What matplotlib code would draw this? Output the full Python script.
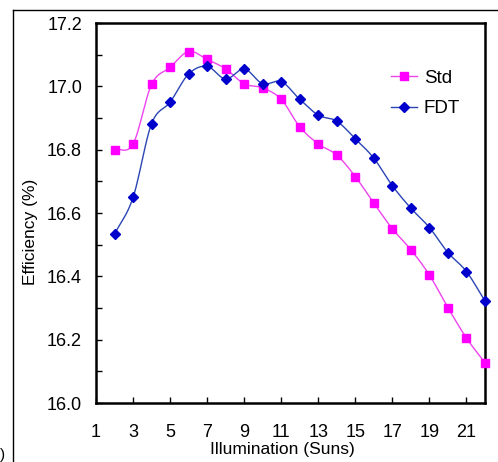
import matplotlib
matplotlib.use("Agg")
import matplotlib.pyplot as plt
from matplotlib.lines import Line2D
import numpy as np

plt.rcParams["font.family"] = ["Liberation Sans", "DejaVu Sans"]

suns = [2, 3, 4, 5, 6, 7, 8, 9, 10, 11, 12, 13, 14, 15, 16, 17, 18, 19, 20, 21, 22]
std_eff = [16.80, 16.818, 17.006, 17.06, 17.11, 17.085, 17.055, 17.008, 16.995, 16.959,
           16.872, 16.818, 16.783, 16.715, 16.631, 16.55, 16.484, 16.404, 16.301, 16.205, 16.127]
fdt_eff = [16.533, 16.649, 16.882, 16.95, 17.039, 17.063, 17.023, 17.055, 17.008, 17.015,
           16.959, 16.909, 16.89, 16.834, 16.773, 16.686, 16.615, 16.554, 16.475, 16.415, 16.322]
x_ticks = [1, 3, 5, 7, 9, 11, 13, 15, 17, 19, 21]


def smooth(x, y, n=12):
    # Catmull-Rom path through the points, like Excel's smoothed line
    x = np.asarray(x, dtype=float)
    y = np.asarray(y, dtype=float)
    px = np.concatenate([[2 * x[0] - x[1]], x, [2 * x[-1] - x[-2]]])
    py = np.concatenate([[2 * y[0] - y[1]], y, [2 * y[-1] - y[-2]]])
    t = np.linspace(0, 1, n, endpoint=False)
    xs, ys = [], []
    for i in range(1, len(px) - 2):
        for p, out in ((px, xs), (py, ys)):
            p0, p1, p2, p3 = p[i - 1], p[i], p[i + 1], p[i + 2]
            out.extend(0.5 * (2 * p1 + (-p0 + p2) * t + (2 * p0 - 5 * p1 + 4 * p2 - p3) * t ** 2
                              + (-p0 + 3 * p1 - 3 * p2 + p3) * t ** 3))
    xs.append(x[-1])
    ys.append(y[-1])
    return xs, ys


fig = plt.figure(figsize=(4.98, 4.62), dpi=100)
ax = fig.add_axes([96 / 498, 59 / 462, 389 / 498, 380 / 462])

std_c, std_line = "#ff00ff", "#ee44ee"
fdt_c, fdt_line = "#0000cc", "#2b45b5"

ax.plot(*smooth(suns, std_eff), color=std_line, lw=1.0)
ax.plot(suns, std_eff, "s", color=std_c, ms=5.5, mec=std_c, clip_on=False, zorder=3)
ax.plot(*smooth(suns, fdt_eff), color=fdt_line, lw=1.0)
ax.plot(suns, fdt_eff, "D", color=fdt_c, ms=4.8, mec=fdt_c, clip_on=False, zorder=3)

ax.set_xlim(1, 22)
ax.set_ylim(16.0, 17.2)
ax.set_xticks(x_ticks)
ax.set_yticks(np.arange(16.0, 17.21, 0.2))
ax.set_yticks(np.arange(16.1, 17.2, 0.2), minor=True)
ax.yaxis.set_major_formatter(matplotlib.ticker.FormatStrFormatter("%.1f"))
ax.tick_params(direction="in", length=4, width=1, labelsize=13)
ax.tick_params(axis="y", which="minor", direction="in", length=4, width=1)
ax.tick_params(axis="y", pad=10)
ax.tick_params(axis="x", pad=15)
for s in ax.spines.values():
    s.set_linewidth(1.8)

ax.set_xlabel("Illumination (Suns)", fontsize=12.5)
ax.set_ylabel("Efficiency (%)", fontsize=12.5)
ax.xaxis.set_label_coords(0.478, -0.103)
ax.yaxis.set_label_coords(-0.148, 0.45)

handles = [
    Line2D([], [], color=std_line, lw=1.0, marker="s", mfc=std_c, mec=std_c, ms=5.5),
    Line2D([], [], color=fdt_line, lw=1.0, marker="D", mfc=fdt_c, mec=fdt_c, ms=4.8),
]
ax.legend(handles, ["Std", "FDT"], loc="upper left", bbox_to_anchor=(0.758, 0.877),
          frameon=False, fontsize=13.5, handlelength=1.4, handletextpad=0.35,
          labelspacing=0.7, borderpad=0, borderaxespad=0)

# outer frame of the original figure panel
fig.add_artist(Line2D([13 / 498, 1], [1 - 10 / 462] * 2, color="black", lw=1.0))
fig.add_artist(Line2D([13 / 498] * 2, [0, 1 - 10 / 462], color="black", lw=1.0))
fig.text(0.0, 0.0, ")", fontsize=11, va="bottom", ha="left")

fig.savefig("out.png", dpi=100)
